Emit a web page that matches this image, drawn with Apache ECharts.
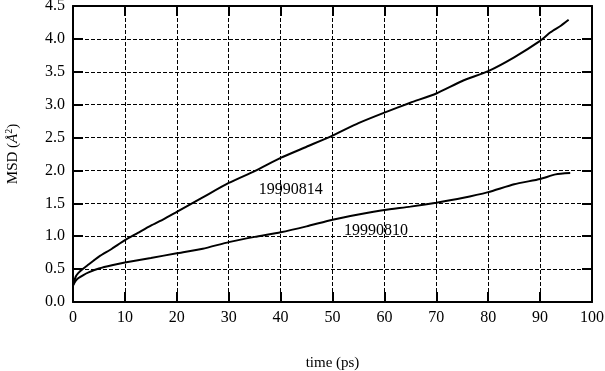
<!DOCTYPE html>
<html>
<head>
<meta charset="utf-8">
<script src="https://cdn.jsdelivr.net/npm/echarts@6/dist/echarts.min.js"></script>
<style>
html,body{margin:0;padding:0;background:#fff;}
#c{width:605px;height:371px;}
</style>
</head>
<body>
<div id="c"></div>
<script>
// Data
var xTicks = [0, 10, 20, 30, 40, 50, 60, 70, 80, 90, 100];
var yTicks = [0.0, 0.5, 1.0, 1.5, 2.0, 2.5, 3.0, 3.5, 4.0, 4.5];

var time0814 = [0, 0.5, 1, 2, 3, 4, 5, 7.5, 10, 12.5, 15, 17.5, 20, 25, 30, 35, 40, 45, 50, 55, 60, 65, 70, 75, 80, 85, 90, 92, 94, 95.5];
var msd0814  = [0.25, 0.38, 0.44, 0.51, 0.57, 0.63, 0.69, 0.81, 0.94, 1.05, 1.16, 1.26, 1.37, 1.59, 1.81, 1.99, 2.19, 2.36, 2.53, 2.72, 2.88, 3.03, 3.17, 3.36, 3.51, 3.72, 3.97, 4.10, 4.20, 4.29];

var time0810 = [0, 0.5, 1, 2, 3, 5, 7.5, 10, 15, 20, 25, 30, 35, 40, 45, 50, 55, 60, 65, 70, 75, 80, 85, 90, 93, 95.8];
var msd0810  = [0.25, 0.32, 0.36, 0.41, 0.45, 0.51, 0.56, 0.60, 0.67, 0.74, 0.81, 0.91, 0.99, 1.06, 1.15, 1.25, 1.33, 1.40, 1.45, 1.51, 1.58, 1.67, 1.79, 1.87, 1.94, 1.96];

var labelNames = ['19990814', '19990810'];
var labelAt = [[35.8, 1.70], [52.2, 1.08]];

function pairs(xs, ys) { return xs.map(function (x, i) { return [x, ys[i]]; }); }

var FONT = 'Liberation Serif';
var FS = 16;
var gridLine = { show: true, lineStyle: { color: '#000', width: 1, type: [4, 2] } };
var tick = { show: true, inside: true, length: 10, lineStyle: { color: '#000', width: 2 } };
var axisLine = { show: true, onZero: false, lineStyle: { color: '#000', width: 2 } };

var chart = echarts.init(document.getElementById('c'), null, { renderer: 'canvas' });
chart.setOption({
  animation: false,
  backgroundColor: '#fff',
  textStyle: { fontFamily: FONT },
  grid: { left: 73, right: 13, top: 6, bottom: 69, containLabel: false, outerBoundsMode: 'none' },
  xAxis: [{
    type: 'value', min: 0, max: 100, interval: 10, position: 'bottom',
    name: 'time (ps)', nameLocation: 'middle', nameGap: 54,
    nameTextStyle: { fontFamily: FONT, fontSize: 15, color: '#000' },
    axisLine: axisLine, axisTick: tick, splitLine: gridLine,
    axisLabel: { fontFamily: FONT, fontSize: FS, color: '#000', margin: 8,
      formatter: function (v) { return xTicks.indexOf(v) >= 0 ? String(v) : ''; } }
  }, {
    type: 'value', min: 0, max: 100, interval: 10, position: 'top',
    axisLine: axisLine, axisTick: tick, splitLine: { show: false }, axisLabel: { show: false }
  }],
  yAxis: [{
    type: 'value', min: 0, max: 4.5, interval: 0.5, position: 'left',
    name: '{n|MSD (}{a|Å}{s|2}{n|)}', nameLocation: 'middle', nameGap: 51, nameRotate: 90,
    nameTextStyle: { color: '#000', rich: {
      n: { fontFamily: FONT, fontSize: 15, color: '#000' },
      a: { fontFamily: FONT, fontSize: 15, fontStyle: 'italic', color: '#000' },
      s: { fontFamily: FONT, fontSize: 10, color: '#000', verticalAlign: 'top', padding: [0, 0, 8, 0] }
    } },
    axisLine: axisLine, axisTick: tick, splitLine: gridLine,
    axisLabel: { fontFamily: FONT, fontSize: FS, color: '#000', margin: 8,
      formatter: function (v) { var i = yTicks.indexOf(v); return i >= 0 ? yTicks[i].toFixed(1) : ''; } }
  }, {
    type: 'value', min: 0, max: 4.5, interval: 0.5, position: 'right',
    axisLine: axisLine, axisTick: tick, splitLine: { show: false }, axisLabel: { show: false }
  }],
  series: [{
    name: labelNames[0], type: 'line', data: pairs(time0814, msd0814),
    showSymbol: false, symbol: 'none', lineStyle: { color: '#000', width: 2 }, smooth: 0.2,
    markPoint: { symbolSize: 0, silent: true, data: [{ coord: labelAt[0], value: labelNames[0] }],
      label: { show: true, position: 'right', distance: 0, formatter: labelNames[0], color: '#000', fontFamily: FONT, fontSize: FS } }
  }, {
    name: labelNames[1], type: 'line', data: pairs(time0810, msd0810),
    showSymbol: false, symbol: 'none', lineStyle: { color: '#000', width: 2 }, smooth: 0.2,
    markPoint: { symbolSize: 0, silent: true, data: [{ coord: labelAt[1], value: labelNames[1] }],
      label: { show: true, position: 'right', distance: 0, formatter: labelNames[1], color: '#000', fontFamily: FONT, fontSize: FS } }
  }]
});
</script>
</body>
</html>
